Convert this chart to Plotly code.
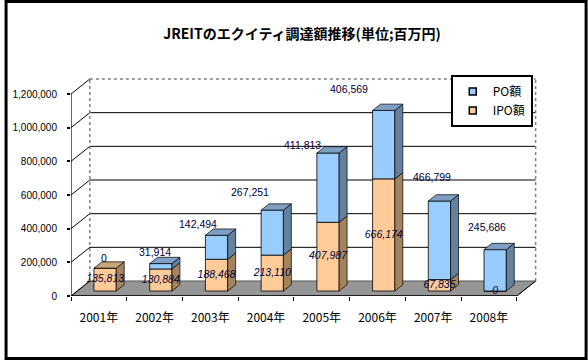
import plotly.graph_objects as go

# ---------------- data ----------------
years = ["2001年", "2002年", "2003年", "2004年", "2005年", "2006年", "2007年", "2008年"]
ipo = [135813, 130884, 188468, 213110, 407987, 666174, 67835, 0]
po = [0, 31914, 142494, 267251, 411813, 406569, 466799, 245686]
ipo_labels = ["135,813", "130,884", "188,468", "213,110", "407,987", "666,174", "67,835", "0"]
po_labels = ["0", "31,914", "142,494", "267,251", "411,813", "406,569", "466,799", "245,686"]
y_ticks = [0, 200000, 400000, 600000, 800000, 1000000, 1200000]
y_tick_text = ["0", "200,000", "400,000", "600,000", "800,000", "1,000,000", "1,200,000"]

# PO label placement (pixel shifts relative to bar top, as in the original 3D chart)
po_label_dx = [-1, -6, -19, -22, -26, -35, -7, -8]
po_label_dy = [10, 12, 11, 18, 8, 21, 24, 23]

# ---------------- geometry (3D look) ----------------
W, H = 588, 360
ML, MR, MT, MB = 67, 49, 76, 64
PX_PER_CAT = 56.2
PX_PER_UNIT_Y = 168.33e-6
plot_w = W - ML - MR
plot_h = H - MT - MB
x_min = -0.5
x_max = x_min + plot_w / PX_PER_CAT
y_max = plot_h / PX_PER_UNIT_Y

wall_dx = 19 / PX_PER_CAT
wall_dy = 15 / PX_PER_UNIT_Y
bar_off_x = 6.3 / PX_PER_CAT
bar_off_y = 5 / PX_PER_UNIT_Y
bar_dx = 8 / PX_PER_CAT
bar_dy = 6.3 / PX_PER_UNIT_Y
bar_w = 0.40

BLUE = "#99CCFF"
BLUE_SIDE = "#64829F"
BLUE_TOP = "#7E9FC3"
ORANGE = "#FFCC99"
ORANGE_SIDE = "#A4845F"
ORANGE_TOP = "#C9A57C"
FLOOR = "#969696"
TXT = "#000033"

n = len(years)
xc = [i + bar_off_x for i in range(n)]

fig = go.Figure()

# front faces (IPO below, PO above)
fig.add_trace(go.Bar(
    x=xc, y=ipo, base=[bar_off_y] * n, width=bar_w,
    marker=dict(color=ORANGE, line=dict(color="#000000", width=0.8)),
    showlegend=False, hoverinfo="skip"))
fig.add_trace(go.Bar(
    x=xc, y=po, base=[bar_off_y + v for v in ipo], width=bar_w,
    marker=dict(color=BLUE, line=dict(color="#000000", width=0.8)),
    showlegend=False, hoverinfo="skip"))


def side_polys(b0s, b1s):
    xs, ys = [], []
    for i in range(n):
        if b1s[i] - b0s[i] <= 0:
            continue
        xr = xc[i] + bar_w / 2
        xs += [xr, xr + bar_dx, xr + bar_dx, xr, xr, None]
        ys += [b0s[i], b0s[i] + bar_dy, b1s[i] + bar_dy, b1s[i], b0s[i], None]
    return xs, ys


ipo_b0 = [bar_off_y] * n
ipo_b1 = [bar_off_y + v for v in ipo]
po_b1 = [ipo_b1[i] + po[i] for i in range(n)]

sx, sy = side_polys(ipo_b0, ipo_b1)
fig.add_trace(go.Scatter(x=sx, y=sy, mode="lines", fill="toself", fillcolor=ORANGE_SIDE,
                         line=dict(color="#000000", width=0.7), showlegend=False, hoverinfo="skip"))
sx, sy = side_polys(ipo_b1, po_b1)
fig.add_trace(go.Scatter(x=sx, y=sy, mode="lines", fill="toself", fillcolor=BLUE_SIDE,
                         line=dict(color="#000000", width=0.7), showlegend=False, hoverinfo="skip"))

# top faces
for top_color, cond in ((BLUE_TOP, lambda i: po[i] > 0), (ORANGE_TOP, lambda i: po[i] == 0)):
    tx, ty = [], []
    for i in range(n):
        if not cond(i):
            continue
        xl = xc[i] - bar_w / 2
        xr = xc[i] + bar_w / 2
        t = po_b1[i]
        tx += [xl, xr, xr + bar_dx, xl + bar_dx, xl, None]
        ty += [t, t, t + bar_dy, t + bar_dy, t, None]
    fig.add_trace(go.Scatter(x=tx, y=ty, mode="lines", fill="toself", fillcolor=top_color,
                             line=dict(color="#000000", width=0.7), showlegend=False, hoverinfo="skip"))

# IPO value labels (centre of the IPO segment)
fig.add_trace(go.Scatter(
    x=xc, y=[bar_off_y + v / 2 for v in ipo], mode="text", text=ipo_labels,
    textfont=dict(family="Liberation Sans", size=10.5, color=TXT, style="italic"),
    showlegend=False, hoverinfo="skip"))

# legend entries
fig.add_trace(go.Scatter(x=[None], y=[None], mode="markers", name="PO額",
                         marker=dict(symbol="square", size=7, color=BLUE,
                                     line=dict(color="#000000", width=1.5))))
fig.add_trace(go.Scatter(x=[None], y=[None], mode="markers", name="IPO額",
                         marker=dict(symbol="square", size=7, color=ORANGE,
                                     line=dict(color="#000000", width=1.5))))

# PO labels
for i in range(n):
    fig.add_annotation(x=xc[i], y=po_b1[i], text=po_labels[i], showarrow=False,
                       xshift=po_label_dx[i], yshift=po_label_dy[i],
                       font=dict(family="Liberation Sans", size=10.5, color=TXT))

# ---------------- walls / floor / axes (shapes) ----------------
shapes = []
x_front_r = x_min + n
# floor
shapes.append(dict(type="path", layer="below",
                   path=f"M {x_min},0 L {x_front_r},0 L {x_front_r + wall_dx},{wall_dy} "
                        f"L {x_min + wall_dx},{wall_dy} Z",
                   fillcolor=FLOOR, line=dict(color="#555555", width=1)))
# back wall gridlines + left wall diagonals
for v in y_ticks:
    if 0 < v < y_ticks[-1]:
        shapes.append(dict(type="line", layer="below", x0=x_min + wall_dx, x1=x_front_r + wall_dx,
                           y0=v + wall_dy, y1=v + wall_dy, line=dict(color="#000000", width=1)))
    shapes.append(dict(type="line", layer="below", x0=x_min, x1=x_min + wall_dx,
                       y0=v, y1=v + wall_dy, line=dict(color="#000000", width=1)))
top = y_ticks[-1] + wall_dy
shapes.append(dict(type="line", layer="below", x0=x_min + wall_dx, x1=x_front_r + wall_dx,
                   y0=top, y1=top, line=dict(color="#808080", width=1.5, dash="dot")))
shapes.append(dict(type="line", layer="below", x0=x_min + wall_dx, x1=x_min + wall_dx,
                   y0=wall_dy, y1=top, line=dict(color="#808080", width=1.5, dash="dot")))
shapes.append(dict(type="line", layer="below", x0=x_front_r + wall_dx, x1=x_front_r + wall_dx,
                   y0=wall_dy, y1=top, line=dict(color="#808080", width=1.5, dash="dot")))
# front axes
shapes.append(dict(type="line", x0=x_min, x1=x_min, y0=0, y1=y_ticks[-1],
                   line=dict(color="#000000", width=1.2)))
shapes.append(dict(type="line", x0=x_min, x1=x_front_r, y0=0, y1=0,
                   line=dict(color="#000000", width=1.5)))
shapes.append(dict(type="line", x0=x_front_r, x1=x_front_r + wall_dx, y0=0, y1=wall_dy,
                   line=dict(color="#000000", width=1)))
# outer frame (paper coords: 0..1 spans the plot area)
shapes.append(dict(type="rect", xref="paper", yref="paper",
                   x0=(1.5 - ML) / plot_w, x1=(W - 1.5 - ML) / plot_w,
                   y0=-(MB - 1.5) / plot_h, y1=(plot_h + MT - 1.5) / plot_h,
                   line=dict(color="#000000", width=3)))

fig.update_layout(
    width=W, height=H,
    margin=dict(l=ML, r=MR, t=MT, b=MB, pad=0),
    paper_bgcolor="#FFFFFF", plot_bgcolor="#FFFFFF",
    barmode="overlay",
    shapes=shapes,
    title=dict(text="<b>JREITのエクイティ調達額推移(単位;百万円)</b>",
               x=302 / W, xanchor="center", y=1 - 34 / H, yanchor="middle",
               font=dict(family="Noto Sans CJK JP", size=14, color="#000000")),
    font=dict(family="Liberation Sans", color="#000000"),
    legend=dict(x=(450 - ML) / plot_w, y=(H - MB - 75) / plot_h, xanchor="left", yanchor="top",
                bgcolor="#FFFFFF", bordercolor="#000000", borderwidth=2,
                font=dict(family="Noto Sans CJK JP", size=12, color="#000000"),
                itemwidth=30, tracegroupgap=0),
    xaxis=dict(range=[x_min, x_max], showgrid=False, zeroline=False, showline=False,
               tickvals=list(range(n)), ticktext=years, ticks="",
               tickfont=dict(family="Noto Sans CJK JP", size=12, color="#000000"),
               ticklabelstandoff=13,
               minor=dict(tickvals=[x_min + k for k in range(n + 1)], ticks="outside",
                          ticklen=4, tickcolor="#000000", tickwidth=1.2, showgrid=False)),
    yaxis=dict(range=[0, y_max], showgrid=False, zeroline=False, showline=False,
               tickvals=y_ticks, ticktext=y_tick_text, ticks="outside", ticklen=3,
               tickcolor="#000000", tickwidth=1.5,
               tickfont=dict(family="Liberation Sans", size=10, color="#000000"),
               ticklabelstandoff=8),
)

fig.write_html("out.html", config={"displayModeBar": False},
               post_script="document.body.style.margin='0';document.body.style.overflow='hidden';")
